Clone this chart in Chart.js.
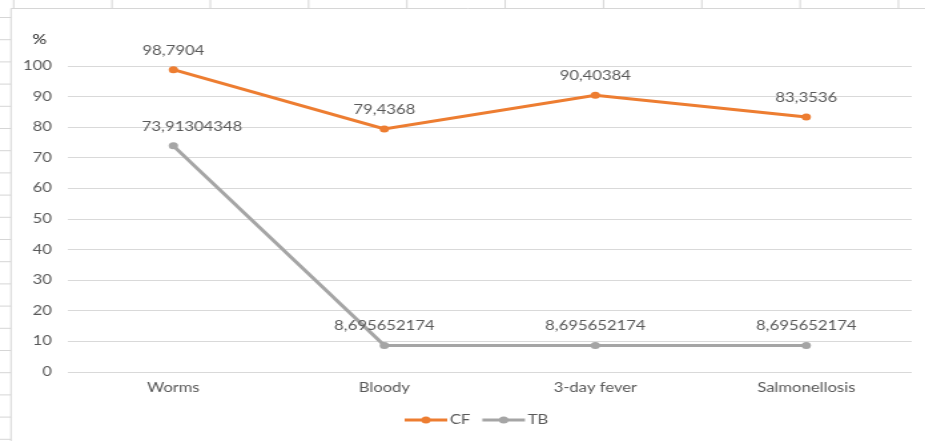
<!DOCTYPE html>
<html>
<head>
<meta charset="utf-8">
<script src="https://cdn.jsdelivr.net/npm/chart.js@4"></script>
<style>
  html, body { margin: 0; padding: 0; background: #ffffff; }
  /* the chart is laid out narrow and widened horizontally */
  #wrap { position: absolute; left: 0; top: 0; width: 695px; height: 441px;
          transform: scaleX(1.331); transform-origin: 0 0; }
</style>
</head>
<body>
<div id="wrap"><canvas id="chart"></canvas></div>
<script>
// ---- data ----
const categories = ['Worms', 'Bloody', '3-day fever', 'Salmonellosis'];
const cfValues = [98.7904, 79.4368, 90.40384, 83.3536];
const tbValues = [73.91304348, 8.695652174, 8.695652174, 8.695652174];
const seriesNames = ['CF', 'TB'];
const yMin = 0;
const yMax = 100;
const yStep = 10;
const yUnit = '%';

// ---- styling ----
const STRETCH = 1.331;
const FONT = 'Lato, "Noto Sans", sans-serif';
const TEXT = '#595959';
const GRID = '#d9d9d9';
const ORANGE = '#ed7d31';
const GREY = '#a5a5a5';

const fmt = v => String(v).replace('.', ',');

// light frame with ruler marks along the top and left edges
const framePlugin = {
  id: 'frame',
  beforeDraw(chart) {
    const ctx = chart.ctx;
    const w = chart.width, h = chart.height;
    ctx.save();
    ctx.fillStyle = '#ffffff';
    ctx.fillRect(0, 0, w, h);
    ctx.strokeStyle = '#d6d6d6';
    ctx.lineWidth = 1;
    const left = 11 / STRETCH;
    ctx.beginPath();
    ctx.moveTo(left, 8.5); ctx.lineTo(w, 8.5);
    ctx.moveTo(left, 8.5); ctx.lineTo(left, h);
    for (let x = 13.7; x < 925; x += 98.3) {
      ctx.moveTo(x / STRETCH, 0); ctx.lineTo(x / STRETCH, 8);
    }
    for (let y = 17.5; y < h; y += 22.2) {
      ctx.moveTo(0, y); ctx.lineTo(left, y);
    }
    ctx.stroke();
    ctx.restore();
  }
};

// value labels above the points, the "%" unit title and the legend
const annotatePlugin = {
  id: 'annotate',
  afterDatasetsDraw(chart, args, opts) {
    const ctx = chart.ctx;
    ctx.save();
    ctx.font = '12.5px ' + FONT;
    ctx.fillStyle = TEXT;
    ctx.textAlign = 'center';
    ctx.textBaseline = 'middle';
    chart.data.datasets.forEach((ds, di) => {
      const meta = chart.getDatasetMeta(di);
      meta.data.forEach((pt, i) => {
        const dx = (opts.shift[di] && opts.shift[di][i]) || 0;
        ctx.fillText(fmt(ds.data[i]), pt.x + dx, pt.y - 19);
      });
    });

    // unit title
    ctx.font = '13.5px ' + FONT;
    ctx.fillStyle = '#262626';
    ctx.fillText(yUnit, 39.5 / STRETCH, 40);

    // legend
    ctx.font = '12.5px ' + FONT;
    ctx.textAlign = 'left';
    let x = 304;
    const y = 420;
    chart.data.datasets.forEach(ds => {
      ctx.strokeStyle = ds.borderColor;
      ctx.lineWidth = 3;
      ctx.beginPath();
      ctx.moveTo(x, y); ctx.lineTo(x + 32, y);
      ctx.stroke();
      ctx.fillStyle = ds.borderColor;
      ctx.beginPath();
      ctx.arc(x + 16, y, 3.5, 0, Math.PI * 2);
      ctx.fill();
      ctx.fillStyle = TEXT;
      ctx.fillText(ds.label, x + 34, y);
      x += 34 + ctx.measureText(ds.label).width + 9;
    });
    ctx.restore();
  }
};

new Chart(document.getElementById('chart'), {
  type: 'line',
  data: {
    labels: categories,
    datasets: [
      { label: seriesNames[0], data: cfValues, borderColor: ORANGE, backgroundColor: ORANGE,
        borderWidth: 3, pointRadius: 3.5, pointHoverRadius: 3.5, pointBorderWidth: 0,
        tension: 0, fill: false },
      { label: seriesNames[1], data: tbValues, borderColor: GREY, backgroundColor: GREY,
        borderWidth: 3, pointRadius: 3.5, pointHoverRadius: 3.5, pointBorderWidth: 0,
        tension: 0, fill: false }
    ]
  },
  options: {
    responsive: true,
    maintainAspectRatio: false,
    animation: false,
    events: [],
    layout: { padding: { top: 66, right: 10, left: 0, bottom: 0 } },
    plugins: {
      legend: { display: false },
      tooltip: { enabled: false },
      annotate: { shift: { 1: { 0: 14 } } }
    },
    scales: {
      x: {
        offset: true,
        grid: { display: false, drawTicks: false },
        border: { display: false },
        ticks: { color: TEXT, font: { family: FONT, size: 12.5 }, padding: 8, maxRotation: 0 },
        afterFit(scale) { scale.height = 69; }
      },
      y: {
        min: yMin,
        max: yMax,
        grid: { color: GRID, lineWidth: 1, drawTicks: false },
        border: { display: false },
        ticks: { stepSize: yStep, color: TEXT, font: { family: FONT, size: 12.5 }, padding: 12 },
        afterFit(scale) { scale.width = 51; }
      }
    }
  },
  plugins: [framePlugin, annotatePlugin]
});
</script>
</body>
</html>
